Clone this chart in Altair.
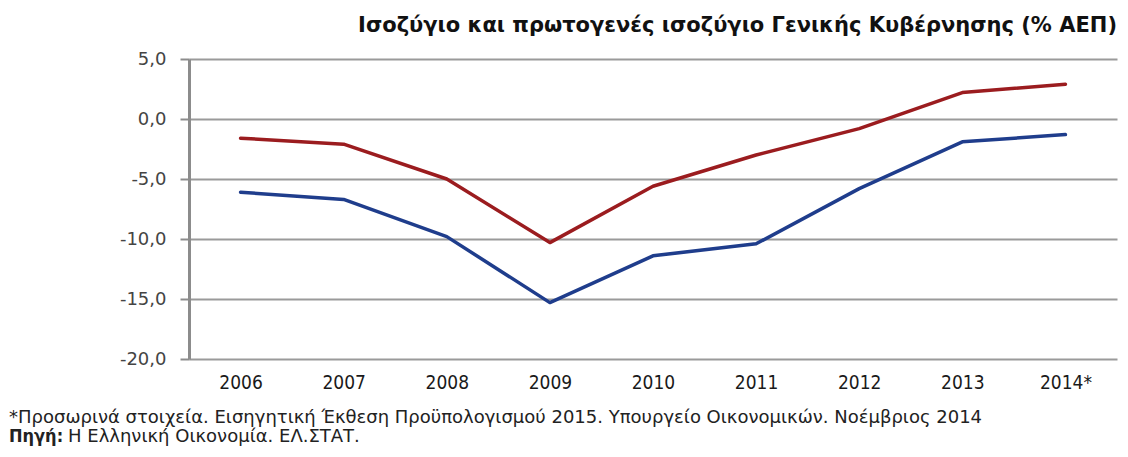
import altair as alt
import pandas as pd

years = ["2006", "2007", "2008", "2009", "2010", "2011", "2012", "2013", "2014*"]
primary_balance = [-1.6, -2.1, -5.0, -10.3, -5.6, -3.0, -0.8, 2.2, 2.9]
balance = [-6.1, -6.7, -9.8, -15.3, -11.4, -10.4, -5.8, -1.9, -1.3]
series_names = ["Πρωτογενές ισοζύγιο", "Ισοζύγιο"]
series_colors = ["#9b1c1f", "#1f3d8c"]
y_ticks = [5, 0, -5, -10, -15, -20]

title_text = "Ισοζύγιο και πρωτογενές ισοζύγιο Γενικής Κυβέρνησης (% ΑΕΠ)"
note1 = "*Προσωρινά στοιχεία. Εισηγητική Έκθεση Προϋπολογισμού 2015. Υπουργείο Οικονομικών. Νοέμβριος 2014"
note2_bold = "Πηγή:"
note2 = "Η Ελληνική Οικονομία. ΕΛ.ΣΤΑΤ."

rows = []
for name, vals in zip(series_names, [primary_balance, balance]):
    for y, v in zip(years, vals):
        rows.append({"year": y, "value": v, "series": name})
df = pd.DataFrame(rows)

label_expr = "replace(replace(format(datum.value, '.1f'), '.', ','), '\u2212', '-')"
FONT = "DejaVu Sans"
COND = "DejaVu Sans Condensed, DejaVu Sans"

lines = alt.Chart(df).mark_line(strokeWidth=3.5, strokeCap="round", strokeJoin="round").encode(
    x=alt.X("year:N", sort=years, title=None,
            scale=alt.Scale(type="point", padding=0.5),
            axis=alt.Axis(labelAngle=0, ticks=False, domain=False, grid=False,
                          labelFont=COND, labelFontSize=19,
                          labelColor="#1a1a1a", labelPadding=14)),
    y=alt.Y("value:Q", title=None,
            scale=alt.Scale(domain=[-20, 5], nice=False, zero=False),
            axis=alt.Axis(values=y_ticks, labelExpr=label_expr,
                          labelFont=FONT, labelFontSize=18, labelColor="#444",
                          grid=True, gridColor="#9a9a9a", gridWidth=2,
                          domain=True, domainColor="#8c8c8c", domainWidth=3,
                          ticks=True, tickSize=9, tickColor="#8c8c8c", tickWidth=2,
                          labelPadding=14)),
    color=alt.Color("series:N", sort=series_names,
                    scale=alt.Scale(domain=series_names, range=series_colors),
                    legend=None),
    detail="series:N",
)

notes = pd.DataFrame({"t": [note1]})
n1 = alt.Chart(notes).mark_text(align="left", baseline="middle", font=FONT,
                                fontSize=18, color="#222").encode(
    x=alt.value(-180), y=alt.value(359), text="t:N")
notes2 = pd.DataFrame({"t": [note2_bold], "u": [note2]})
n2a = alt.Chart(notes2).mark_text(align="left", baseline="middle", font=COND,
                                  fontSize=18, fontWeight="bold", color="#222").encode(
    x=alt.value(-180), y=alt.value(378), text="t:N")
n2b = alt.Chart(notes2).mark_text(align="left", baseline="middle", font=FONT,
                                  fontSize=18, color="#222").encode(
    x=alt.value(-121), y=alt.value(378), text="u:N")

chart = alt.layer(lines, n1, n2a, n2b).properties(
    width=928, height=300,
    title=alt.TitleParams(title_text, anchor="end", font=FONT, fontSize=21,
                          fontWeight="bold", color="#111", offset=14),
    autosize=alt.AutoSizeParams(type="none"),
    padding={"left": 181, "top": 51, "right": 3, "bottom": 90},
).configure_view(stroke=None)

chart.save("out.html", embed_options={"renderer": "svg", "actions": False})
